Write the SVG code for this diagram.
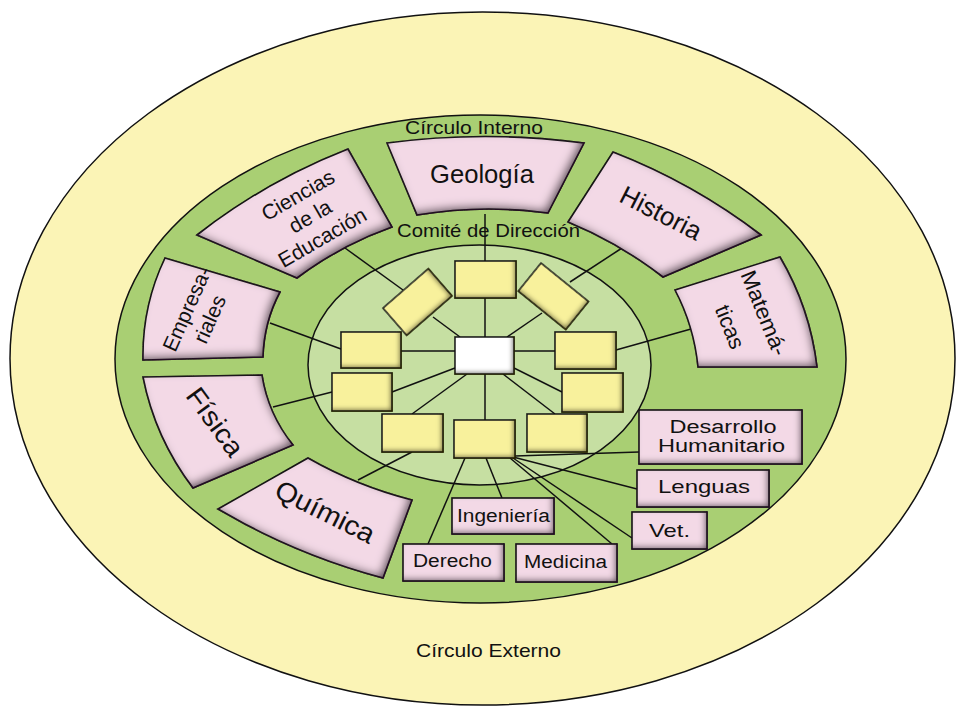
<svg xmlns="http://www.w3.org/2000/svg" width="957" height="708" viewBox="0 0 957 708">
<defs>
<style>
text{font-family:"Liberation Sans",Arial,sans-serif;fill:#111}
.sec{fill:#f3d9e6;stroke:#1a1a1a;stroke-width:1.6;filter:url(#shBig)}
.pb{fill:#f3d9e6;stroke:#1a1a1a;stroke-width:1.6;filter:url(#shMid)}
.yb{fill:#f8f19c;stroke:#1a1a1a;stroke-width:1.5;filter:url(#shSmall)}
.wb{fill:#ffffff;stroke:#1a1a1a;stroke-width:1.5;filter:url(#shSmall)}
#connectors line{stroke:#111;stroke-width:1.5}
</style>
<filter id="shBig" x="-25%" y="-25%" width="150%" height="150%">
<feFlood flood-color="#2a0f2a" flood-opacity="0.9"/>
<feComposite in2="SourceAlpha" operator="out"/>
<feOffset dx="-4" dy="-4"/>
<feGaussianBlur stdDeviation="4"/>
<feComposite in2="SourceAlpha" operator="in" result="sh"/>
<feMerge><feMergeNode in="SourceGraphic"/><feMergeNode in="sh"/></feMerge>
</filter>
<filter id="shMid" x="-30%" y="-40%" width="160%" height="180%">
<feFlood flood-color="#2a0f2a" flood-opacity="0.9"/>
<feComposite in2="SourceAlpha" operator="out"/>
<feOffset dx="-3" dy="-3"/>
<feGaussianBlur stdDeviation="3"/>
<feComposite in2="SourceAlpha" operator="in" result="sh"/>
<feMerge><feMergeNode in="SourceGraphic"/><feMergeNode in="sh"/></feMerge>
</filter>
<filter id="shSmall" x="-40%" y="-50%" width="180%" height="200%">
<feFlood flood-color="#2b2500" flood-opacity="0.8"/>
<feComposite in2="SourceAlpha" operator="out"/>
<feOffset dx="-3" dy="-3"/>
<feGaussianBlur stdDeviation="2"/>
<feComposite in2="SourceAlpha" operator="in" result="sh"/>
<feMerge><feMergeNode in="SourceGraphic"/><feMergeNode in="sh"/></feMerge>
</filter>
</defs>
<rect width="957" height="708" fill="#ffffff"/>

<g id="outer-circle">
<ellipse cx="482.5" cy="358.5" rx="472.5" ry="346.5" fill="#fbf4b6" stroke="#111" stroke-width="1.5"/>
<text x="488.5" y="657" font-size="19" text-anchor="middle" textLength="145" lengthAdjust="spacingAndGlyphs">Círculo Externo</text>
</g>
<g id="inner-circle">
<ellipse cx="480.5" cy="359" rx="365.5" ry="244" fill="#a9cf73" stroke="#111" stroke-width="1.5"/>
<text x="474" y="134" font-size="19" text-anchor="middle" textLength="138" lengthAdjust="spacingAndGlyphs">Círculo Interno</text>
</g>
<g id="committee">
<ellipse cx="479.5" cy="365" rx="171.5" ry="120" fill="#c6dfa2" stroke="#111" stroke-width="1.5"/>
<text x="488.5" y="237" font-size="19" text-anchor="middle" textLength="183" lengthAdjust="spacingAndGlyphs">Comité de Dirección</text>
</g>

<g id="connectors">
<line x1="485" y1="298" x2="485" y2="337"/>
<line x1="485" y1="261" x2="485" y2="214"/>
<line x1="433" y1="317" x2="460" y2="337"/>
<line x1="345" y1="248" x2="403" y2="290"/>
<line x1="507" y1="337" x2="542" y2="313"/>
<line x1="570" y1="282" x2="622" y2="248"/>
<line x1="401" y1="351" x2="455" y2="351"/>
<line x1="270" y1="323" x2="341" y2="349"/>
<line x1="392" y1="392" x2="455" y2="368"/>
<line x1="273" y1="407" x2="332" y2="392"/>
<line x1="412" y1="414" x2="467" y2="374"/>
<line x1="358" y1="480" x2="412" y2="452"/>
<line x1="485" y1="374" x2="485" y2="420"/>
<line x1="503" y1="374" x2="555" y2="414"/>
<line x1="514" y1="351" x2="555" y2="351"/>
<line x1="616" y1="350" x2="691" y2="329"/>
<line x1="514" y1="368" x2="562" y2="392"/>
<line x1="465" y1="458" x2="428" y2="544"/>
<line x1="486" y1="458" x2="502" y2="498"/>
<line x1="510" y1="458" x2="612" y2="544"/>
<line x1="513" y1="458" x2="632" y2="538"/>
<line x1="513" y1="457" x2="637" y2="489"/>
<line x1="515" y1="456" x2="639" y2="452"/>
</g>

<g id="geologia">
<path class="sec" d="M387,143 Q485,130 584,143 L548,213 Q482,204 417,215 Z"/>
<text x="482" y="183" font-size="26" text-anchor="middle" textLength="104" lengthAdjust="spacingAndGlyphs">Geología</text>
</g>
<g id="ciencias-educacion">
<path class="sec" d="M197,235 Q266,181 348,149 L392,227 Q341,245 297,278 Z"/>
<g transform="translate(310,216) rotate(-30)" font-size="21" text-anchor="middle">
<text x="0" y="-17">Ciencias</text>
<text x="0" y="7.5">de la</text>
<text x="0" y="32">Educación</text>
</g>
</g>
<g id="historia">
<path class="sec" d="M613,152 Q693,183 761,235 L663,277 Q619,243 568,222 Z"/>
<text transform="translate(661,213) rotate(27)" x="0" y="9" font-size="26" text-anchor="middle" textLength="88" lengthAdjust="spacingAndGlyphs">Historia</text>
</g>
<g id="matematicas">
<path class="sec" d="M675,290 L780,257 Q810,308 817,367 L698,367 Q694,326 675,290 Z"/>
<g transform="translate(747,320) rotate(68)" font-size="22" text-anchor="middle">
<text x="0" y="-11" textLength="90" lengthAdjust="spacingAndGlyphs">Matemá-</text>
<text x="0" y="26">ticas</text>
</g>
</g>
<g id="empresariales">
<path class="sec" d="M165,258 L280,292 Q264,322 263,357 L143,360 Q142,306 165,258 Z"/>
<g transform="translate(198,314) rotate(-66)" font-size="21" text-anchor="middle">
<text x="0" y="-5" textLength="90" lengthAdjust="spacingAndGlyphs">Empresa-</text>
<text x="0" y="20">riales</text>
</g>
</g>
<g id="fisica">
<path class="sec" d="M143,377 L262,375 Q268,414 293,445 L193,488 Q155,438 143,377 Z"/>
<text transform="translate(215,422) rotate(54)" x="0" y="9" font-size="27" text-anchor="middle" textLength="78" lengthAdjust="spacingAndGlyphs">Física</text>
</g>
<g id="quimica">
<path class="sec" d="M308,458 Q357,486 412,500 L383,578 Q296,555 218,509 Z"/>
<text transform="translate(325,512) rotate(26.6)" x="0" y="9" font-size="27" text-anchor="middle" textLength="108" lengthAdjust="spacingAndGlyphs">Química</text>
</g>

<g id="box-center"><rect class="wb" x="455" y="337" width="59" height="37"/></g>
<g id="box-top"><rect class="yb" x="455" y="261" width="61" height="37"/></g>
<g id="box-top-left"><rect class="yb" x="-30" y="-18" width="60" height="36" transform="translate(417.5,302) rotate(-41)"/></g>
<g id="box-top-right"><rect class="yb" x="-30" y="-18" width="61" height="36" transform="translate(553,296) rotate(39)"/></g>
<g id="box-left-1"><rect class="yb" x="341" y="332" width="60" height="36"/></g>
<g id="box-left-2"><rect class="yb" x="332" y="373" width="60" height="38"/></g>
<g id="box-bottom-left"><rect class="yb" x="382" y="414" width="61" height="38"/></g>
<g id="box-bottom"><rect class="yb" x="454" y="420" width="61" height="38"/></g>
<g id="box-bottom-right"><rect class="yb" x="527" y="414" width="60" height="38"/></g>
<g id="box-right-1"><rect class="yb" x="555" y="332" width="61" height="37"/></g>
<g id="box-right-2"><rect class="yb" x="562" y="373" width="61" height="39"/></g>

<g id="desarrollo-humanitario">
<rect class="pb" x="639" y="410" width="163" height="54"/>
<text x="723" y="433" font-size="18" text-anchor="middle" textLength="107" lengthAdjust="spacingAndGlyphs">Desarrollo</text>
<text x="721.5" y="452" font-size="18" text-anchor="middle" textLength="127" lengthAdjust="spacingAndGlyphs">Humanitario</text>
</g>
<g id="lenguas">
<rect class="pb" x="637" y="470" width="132" height="37"/>
<text x="704" y="493" font-size="19" text-anchor="middle" textLength="92" lengthAdjust="spacingAndGlyphs">Lenguas</text>
</g>
<g id="vet">
<rect class="pb" x="632" y="512" width="75" height="37"/>
<text x="669.5" y="537" font-size="19" text-anchor="middle" textLength="41" lengthAdjust="spacingAndGlyphs">Vet.</text>
</g>
<g id="ingenieria">
<rect class="pb" x="452" y="498" width="102" height="36"/>
<text x="503.5" y="522" font-size="18" text-anchor="middle" textLength="93" lengthAdjust="spacingAndGlyphs">Ingeniería</text>
</g>
<g id="derecho">
<rect class="pb" x="403" y="544" width="101" height="37"/>
<text x="452.5" y="567" font-size="18" text-anchor="middle" textLength="79" lengthAdjust="spacingAndGlyphs">Derecho</text>
</g>
<g id="medicina">
<rect class="pb" x="516" y="544" width="101" height="38"/>
<text x="565.5" y="568" font-size="18" text-anchor="middle" textLength="83" lengthAdjust="spacingAndGlyphs">Medicina</text>
</g>
</svg>
